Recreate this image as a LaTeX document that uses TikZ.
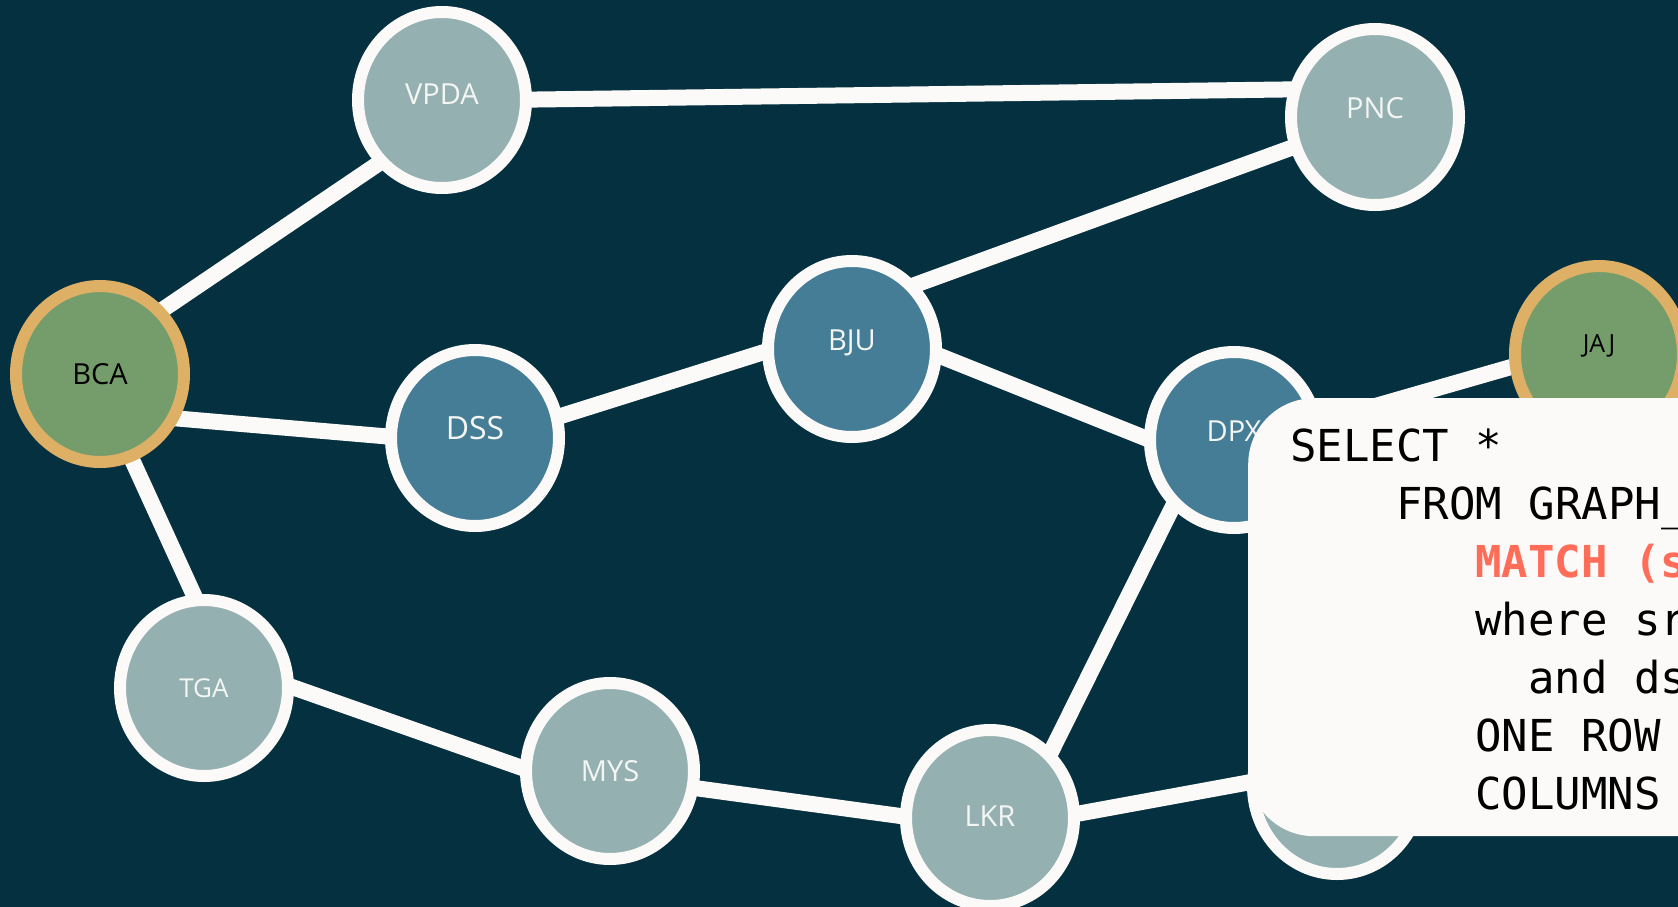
\documentclass[tikz,border=0pt]{standalone}
\usepackage{fontspec}
\setmainfont{Open Sans}
\newfontfamily\codefont{DejaVu Sans Mono}
\usetikzlibrary{shapes.geometric}

\definecolor{bgnavy}{HTML}{05303F}
\definecolor{edgewhite}{HTML}{FBFAF8}
\definecolor{palenode}{HTML}{95B0B1}
\definecolor{steelnode}{HTML}{457D96}
\definecolor{hubgreen}{HTML}{759D6C}
\definecolor{hubgold}{HTML}{DEB065}
\definecolor{labelwhite}{HTML}{F4F6F4}
\definecolor{keyred}{HTML}{FF6C58}

\pgfdeclarelayer{backdrop}
\pgfdeclarelayer{links}
\pgfsetlayers{backdrop,links,main}

% lift a vertex label by half of the given amount
\newcommand{\liftlabel}[2]{\raisebox{#1}{#2}}

\tikzset{
  vertex/.style={ellipse, minimum width=168pt, minimum height=176pt,
    inner sep=0pt, line width=12pt, draw=edgewhite,
    font=\fontsize{29}{29}\selectfont},
  pale/.style={vertex, fill=palenode, text=labelwhite},
  steel/.style={vertex, fill=steelnode, text=labelwhite},
  hub/.style={vertex, fill=hubgreen, draw=hubgold, text=black},
  link/.style={draw=edgewhite, line width=16pt},
  codebox/.style={fill=edgewhite, rounded corners=66pt, inner sep=0pt,
    minimum width=520pt, minimum height=438pt},
  codeline/.style={anchor=base west, inner sep=0pt, text=black,
    font=\codefont\fontsize{44}{58}\selectfont},
}

\begin{document}
\begin{tikzpicture}[x=1pt, y=-1pt]
  \useasboundingbox (0,0) rectangle (1678,907);
  \clip (0,0) rectangle (1678,907);
  \begin{pgfonlayer}{backdrop}
    \fill[bgnavy] (0,0) rectangle (1678,907);
  \end{pgfonlayer}

  % graph vertices
  \node[hub]   (bca)  at (100,374)  {BCA};
  \node[pale]  (vpda) at (442,100)  {\liftlabel{11pt}{VPDA}};
  \node[pale]  (pnc)  at (1375,117) {\liftlabel{18pt}{PNC}};
  \node[steel, font=\fontsize{32}{32}\selectfont] (dss) at (475,438) {\liftlabel{20pt}{DSS}};
  \node[steel] (bju)  at (852,349)  {\liftlabel{18pt}{BJU}};
  \node[steel] (dpx)  at (1234,440) {\liftlabel{18pt}{DPX}};
  \node[hub, font=\fontsize{25}{25}\selectfont] (jaj) at (1599,354) {\liftlabel{20pt}{JAJ}};
  \node[pale, font=\fontsize{26}{26}\selectfont] (tga) at (204,688) {TGA};
  \node[pale]  (mys)  at (610,771)  {MYS};
  \node[pale]  (lkr)  at (990,818)  {\liftlabel{3pt}{LKR}};
  \node[pale]  (hid)  at (1337,786) {};

  % edges, kept beneath the vertices; each ends at a point inside its vertex
  \begin{pgfonlayer}{links}
    \draw[link] ([shift={(40,-49)}]bca.center)   -- ([shift={(-42,49)}]vpda.center);
    \draw[link] ([shift={(58,0)}]vpda.center)    -- ([shift={(-55,-28)}]pnc.center);
    \draw[link] ([shift={(-65,24)}]pnc.center)   -- ([shift={(38,-55)}]bju.center);
    \draw[link] ([shift={(60,43)}]bca.center)    -- ([shift={(-70,0)}]dss.center);
    \draw[link] ([shift={(70,-17)}]dss.center)   -- ([shift={(-72,-2)}]bju.center);
    \draw[link] ([shift={(73,1)}]bju.center)     -- ([shift={(-74,4)}]dpx.center);
    \draw[link] ([shift={(16,2)}]dpx.center)     -- ([shift={(-74,9)}]jaj.center);
    \draw[link] ([shift={(23,66)}]bca.center)    -- ([shift={(-1,-73)}]tga.center);
    \draw[link] ([shift={(71,-7)}]tga.center)    -- ([shift={(-65,5)}]mys.center);
    \draw[link] ([shift={(70,15)}]mys.center)    -- ([shift={(-75,0)}]lkr.center);
    \draw[link] ([shift={(52,-48)}]lkr.center)   -- ([shift={(-53,50)}]dpx.center);
    \draw[link] ([shift={(70,-1)}]lkr.center)    -- ([shift={(-37,-13)}]hid.center);
  \end{pgfonlayer}

  % query panel
  \node[codebox, anchor=north west] (query) at (1248,398) {};
  \node[codeline] (q1) at (1290,461) {SELECT *};
  \node[codeline] (q2) at (1396,519) {FROM GRAPH\_};
  \node[codeline, text=keyred, font=\codefont\bfseries\fontsize{44}{58}\selectfont] (q3) at (1475,577) {MATCH (s};
  \node[codeline] (q4) at (1475,635) {where sr};
  \node[codeline] (q5) at (1528,693) {and ds};
  \node[codeline] (q6) at (1475,751) {ONE ROW};
  \node[codeline] (q7) at (1475,809) {COLUMNS};
\end{tikzpicture}
\end{document}
